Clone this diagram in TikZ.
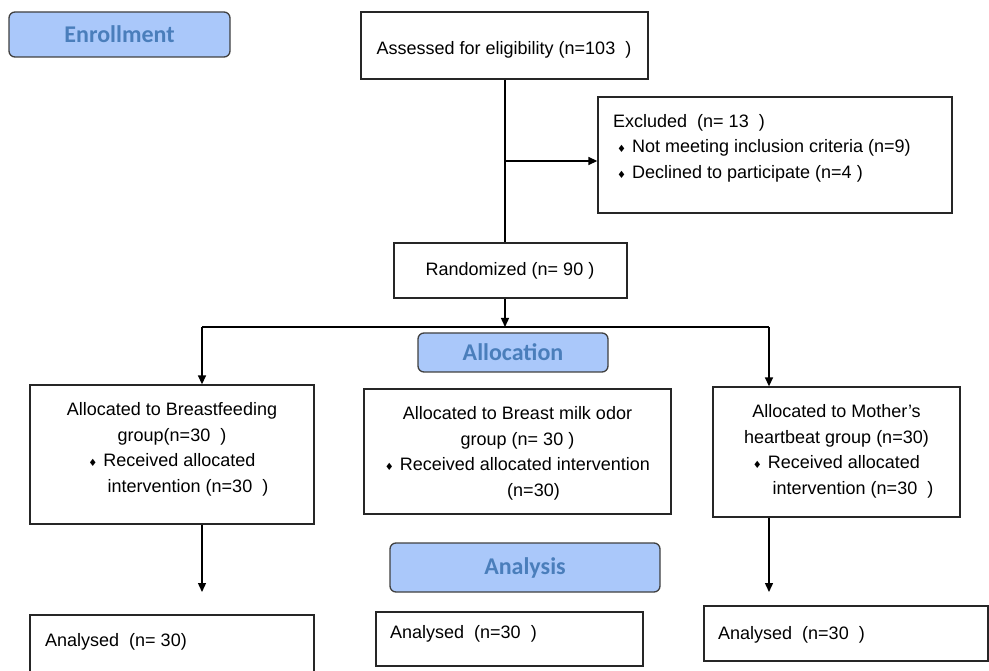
\documentclass[tikz,border=0pt]{standalone}
\usepackage{fontspec}
\setmainfont{Liberation Sans}
\newfontfamily\hdrfont{Carlito}
\newfontfamily\symfont{DejaVu Sans}
\usetikzlibrary{arrows.meta,fit}
\definecolor{hdrfill}{RGB}{170,200,250}
\definecolor{hdrtext}{RGB}{74,126,187}
\newcommand\bul{{\symfont\fontsize{10}{10}\selectfont ♦}\hspace{6pt}}
\begin{document}
\begin{tikzpicture}[x=1pt,y=-1pt,
  box/.style={draw=black!85, line width=1.3pt, inner sep=0pt},
  hdr/.style={draw=black!75, line width=1.3pt, rounded corners=6pt, fill=hdrfill, text=hdrtext,
    font=\hdrfont\bfseries\fontsize{24}{28}\selectfont, inner sep=0pt},
  txt/.style={font=\fontsize{18}{25.5}\selectfont, inner sep=0pt, align=center},
  conn/.style={line width=1.4pt},
  arr/.style={conn, -{Triangle[length=9pt,width=8pt]}}]
\useasboundingbox (0,0) rectangle (989,671);

% headers
\node[hdr, minimum width=221pt, minimum height=45pt] (enr) at (119.5,34.5) {Enrollment};
\node[hdr, minimum width=190pt, minimum height=39pt] (alloc) at (513,352.5) {Allocation};
\node[hdr, minimum width=270pt, minimum height=49pt] (anal) at (525,567.5) {Analysis};

% boxes
\node[box, fit={(361,12) (648,79)}] (assess) {};
\node[box, fit={(598,97) (952,213)}] (excl) {};
\node[box, fit={(394,243) (627,298)}] (random) {};
\node[box, fit={(30,385) (314,524)}] (alloc1) {};
\node[box, fit={(364,389) (671,514)}] (alloc2) {};
\node[box, fit={(713,387) (960,517)}] (alloc3) {};
\node[box, fit={(30,615) (314,685)}] (anl1) {};
\node[box, fit={(376,612) (643,666)}] (anl2) {};
\node[box, fit={(704,606) (988,661)}] (anl3) {};

% texts
\node[txt] (t-assess) at (504,50) {Assessed for eligibility (n=103~~)};
\node[txt, align=left, anchor=west] (t-excl) at (613,148)
  {Excluded~~(n= 13~~)\\\hspace*{4pt}\bul Not meeting inclusion criteria (n=9)\\\hspace*{4pt}\bul Declined to participate (n=4 )};
\node[txt] (t-random) at (510,271) {Randomized (n= 90 )};
\node[txt] (t-alloc1) at (172,449.5)
  {Allocated to Breastfeeding\\group(n=30~~)\\\bul Received allocated\\\hspace*{32pt}intervention (n=30~~)};
\node[txt] (t-alloc2) at (517.5,453.5)
  {Allocated to Breast milk odor\\group (n= 30 )\\\bul Received allocated intervention\\\hspace*{32pt}(n=30)};
\node[txt] (t-alloc3) at (836.5,451.5)
  {Allocated to Mother’s\\heartbeat group (n=30)\\\bul Received allocated\\\hspace*{33pt}intervention (n=30~~)};
\node[txt, anchor=west] (t-anl1) at (45,642) {Analysed~~(n= 30)};
\node[txt, anchor=west] (t-anl2) at (390,634) {Analysed~~(n=30~~)};
\node[txt, anchor=west] (t-anl3) at (718,635) {Analysed~~(n=30~~)};

% connectors
\coordinate (trunk) at (505,161);
\draw[conn] (assess.south -| trunk) -- (random.north -| trunk);
\draw[arr] (trunk) -- (excl.west |- trunk);
\coordinate (split) at (505,327);
\coordinate (sL) at (202,327);
\coordinate (sR) at (769,327);
\draw[arr] (random.south -| split) -- (split);
\draw[conn] (sL) -- (sR);
\draw[arr] (sL) -- (alloc1.north -| sL);
\draw[arr] (sR) -- (alloc3.north -| sR);
\coordinate (eL) at (202,592);
\coordinate (eR) at (769,592);
\draw[arr] (alloc1.south -| eL) -- (eL);
\draw[arr] (alloc3.south -| eR) -- (eR);
\end{tikzpicture}
\end{document}
